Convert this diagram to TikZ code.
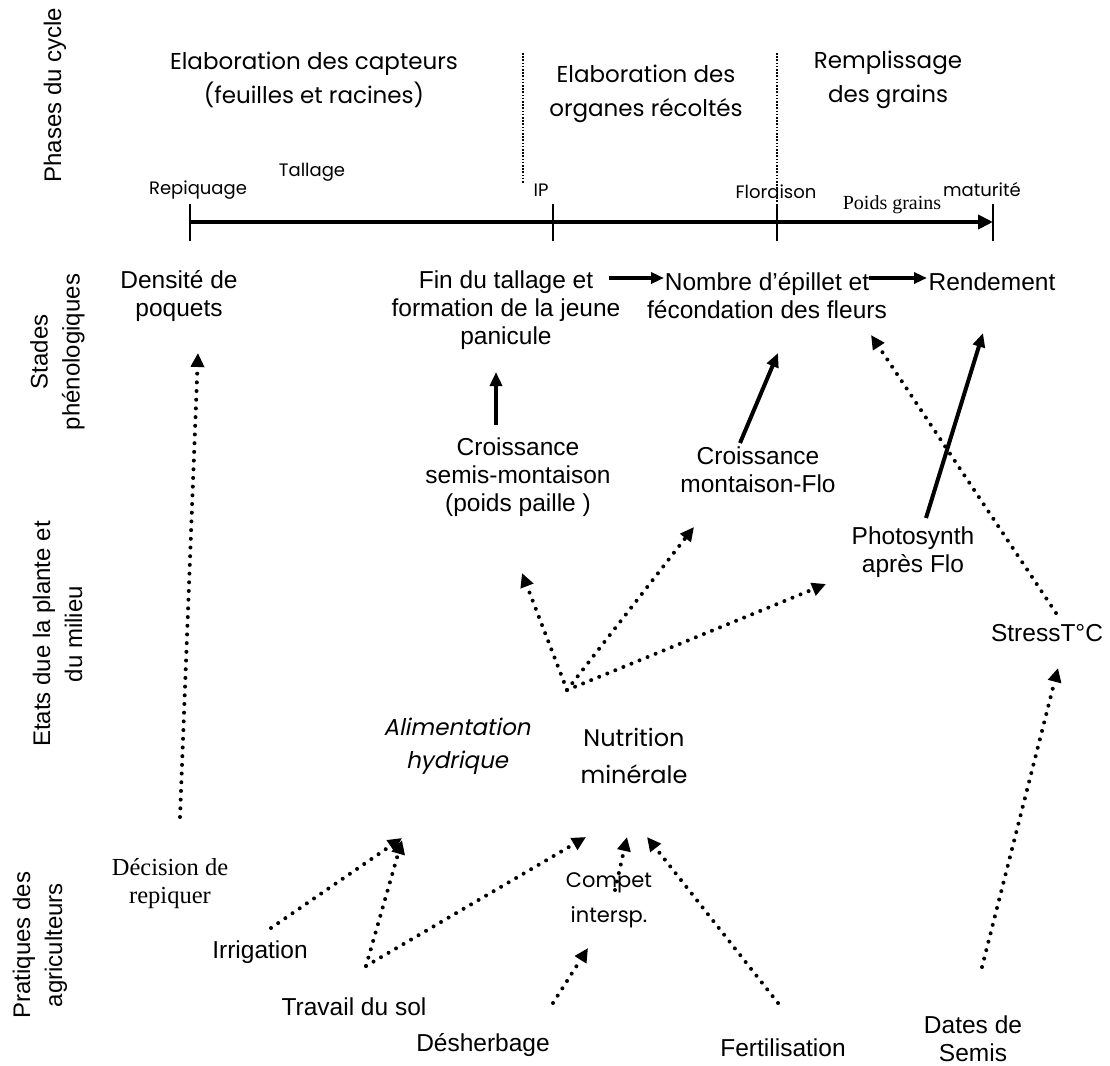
\documentclass[tikz,border=0pt]{standalone}
\usepackage{fontspec}
\setmainfont{Liberation Sans}
\newfontfamily\comic{Poppins}
\newfontfamily\comicit{Poppins}[FakeSlant=0.2]
\newfontfamily\timesf{Liberation Serif}
\usetikzlibrary{arrows.meta}
\begin{document}
\begin{tikzpicture}[x=1pt,y=-1pt,
  every node/.style={inner sep=0pt, align=center},
  lab/.style={font=\fontsize{24.5}{28}\selectfont},
  side/.style={font=\fontsize{24}{32}\selectfont, rotate=90},
  phase/.style={font=\comic\fontsize{23}{34}\selectfont},
  tl/.style={font=\comic\fontsize{18}{22}\selectfont},
  comicl/.style={font=\comic\fontsize{21}{35}\selectfont},
  nutrl/.style={font=\comic\fontsize{24}{37}\selectfont},
  comicitl/.style={font=\comicit\fontsize{23}{33}\selectfont},
  serifl/.style={font=\timesf\fontsize{24.5}{28}\selectfont},
  solidarrow/.style={line width=4pt, -{Triangle[length=14pt,width=12pt]}},
  thinarrow/.style={line width=3.5pt, -{Triangle[length=13pt,width=11pt]}},
  dotarrow/.style={line width=4pt, line cap=round, dash pattern=on 0pt off 8.7pt,
     -{Triangle[length=14pt,width=13pt]}},
  sep/.style={line width=1.6pt, dash pattern=on 1.6pt off 1.6pt},
  tick/.style={line width=1.3pt}
]
\fill[white] (0,0) rectangle (1110,1065);
\useasboundingbox (0,0) rectangle (1110,1065);

% side labels
\node[side] (phases) at (55,95) {Phases du cycle};
\node[side] (stades) at (57.5,352) {Stades\\phénologiques};
\node[side] (etatslab) at (57.5,634) {Etats due la plante et\\du milieu};
\node[side] (prat) at (40,945) {Pratiques des\\agriculteurs};

% phase titles
\node[phase] (cap) at (314,80) {Elaboration des capteurs\\(feuilles et racines)};
\node[phase] (org) at (646,94) {Elaboration des\\organes récoltés};
\node[phase] (rempl) at (888,80) {Remplissage\\des grains};

% separators
\coordinate (s1a) at (523,53); \coordinate (s1b) at (523,183);
\coordinate (s2a) at (777,53); \coordinate (s2b) at (777,203);
\draw[sep] (s1a) -- (s1b);
\draw[sep] (s2a) -- (s2b);

% timeline
\coordinate (t0) at (190,222);
\coordinate (t1) at (553,222);
\coordinate (t2) at (777,222);
\coordinate (t3) at (993,222);
\draw[line width=4pt, -{Triangle[length=15pt,width=14pt]}] (t0) -- (t3);
\foreach \t in {t0,t1,t2,t3} \draw[tick] ([yshift=-19pt]\t) -- ([yshift=18pt]\t);
\node[tl] (tall) at (312,172) {Tallage};
\node[tl] (repi) at (198,190) {Repiquage};
\node[tl] (ip) at (541,190) {IP};
\node[tl] (flor) at (776,192) {Floraison};
\node[tl] (matu) at (982,190) {maturité};
\node[font=\timesf\fontsize{20}{24}\selectfont] (pg) at (892,205) {Poids grains};

% main nodes
\node[lab] (dens) at (179,296) {Densité de\\poquets};
\node[lab] (fin) at (506,310) {Fin du tallage et\\formation de la jeune\\panicule};
\node[lab] (nomb) at (767,296) {Nombre d’épillet et\\fécondation des fleurs};
\node[lab] (rend) at (992,282) {Rendement};
\node[lab] (crs) at (518,477) {Croissance\\semis-montaison\\(poids paille )};
\node[lab] (crm) at (758,470) {Croissance\\montaison-Flo};
\node[lab] (photo) at (913,552) {Photosynth\\après Flo};
\node[lab] (stress) at (1047,633) {StressT°C};
\node[comicitl] (alim) at (457,746) {Alimentation\\hydrique};
\node[nutrl] (nutr) at (634,756) {Nutrition\\minérale};
\node[comicl] (compet) at (609,900) {Compet\\intersp.};
\node[serifl] (dec) at (170,884) {Décision de\\repiquer};
\node[lab] (irr) at (260,952) {Irrigation};
\node[lab] (trav) at (354,1007) {Travail du sol};
\node[lab] (desh) at (483,1045) {Désherbage};
\node[lab] (fert) at (783,1048) {Fertilisation};
\node[lab] (dates) at (973,1039) {Dates de\\Semis};
\coordinate (etats) at (567,690);

% solid connectors
\draw[thinarrow] ([shift={(103,-32)}]fin.center) -- ([shift={(-103,-18)}]nomb.center);
\draw[thinarrow] ([shift={(102,-18)}]nomb.center) -- ([shift={(-65,-4)}]rend.center);
\draw[solidarrow] ([shift={(-22,-52)}]crs.center) -- ([shift={(-10,62)}]fin.center);
\draw[solidarrow] ([shift={(-18,-27)}]crm.center) -- ([shift={(11,57)}]nomb.center);
\draw[solidarrow] ([shift={(13,-34)}]photo.center) -- ([shift={(-9,51)}]rend.center);

% dotted connectors
\draw[dotarrow] ([shift={(9,-20)}]stress.center) -- ([shift={(104,39)}]nomb.center);
\draw[dotarrow] ([shift={(10,-67)}]dec.center) -- ([shift={(19,57)}]dens.center);
\draw[dotarrow] (etats) -- ([shift={(4,96)}]crs.center);
\draw[dotarrow] (etats) -- ([shift={(-64,57)}]crm.center);
\draw[dotarrow] (etats) -- ([shift={(-87,32)}]photo.center);
\draw[dotarrow] ([shift={(11,-24)}]irr.center) -- ([shift={(-55,92)}]alim.center);
\draw[dotarrow] ([shift={(12,-41)}]trav.center) -- ([shift={(-55,94)}]alim.center);
\draw[dotarrow] ([shift={(12,-41)}]trav.center) -- ([shift={(-48,81)}]nutr.center);
\draw[dotarrow] ([shift={(6,-10)}]compet.center) -- ([shift={(-7,81)}]nutr.center);
\draw[dotarrow] ([shift={(70,-42)}]desh.center) -- ([shift={(-21,48)}]compet.center);
\draw[dotarrow] ([shift={(-5,-45)}]fert.center) -- ([shift={(13,81)}]nutr.center);
\draw[dotarrow] ([shift={(9,-72)}]dates.center) -- ([shift={(11,35)}]stress.center);
\end{tikzpicture}
\end{document}
